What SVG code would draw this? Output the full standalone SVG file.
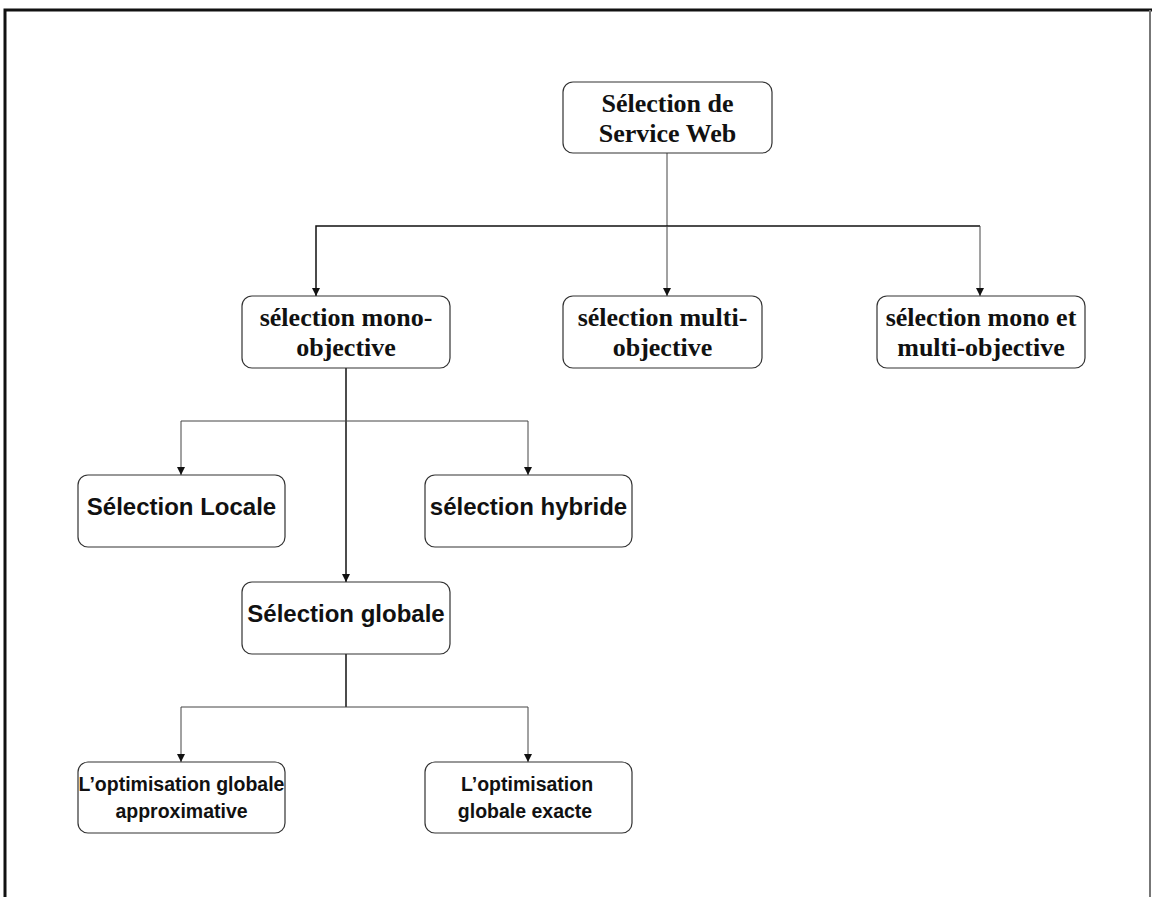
<svg xmlns="http://www.w3.org/2000/svg" width="1152" height="897" viewBox="0 0 1152 897">
<style>
.box{fill:#fff;stroke:#333;stroke-width:1.2}
.serif{font-family:"Liberation Serif","Times New Roman",serif;font-weight:bold;font-size:26px;fill:#111;text-anchor:middle}
.sans{font-family:"Liberation Sans",Arial,sans-serif;font-weight:bold;font-size:24px;fill:#111;text-anchor:middle}
.cal{font-family:"Liberation Sans",Arial,sans-serif;font-weight:bold;font-size:19.5px;fill:#111;text-anchor:middle}
.ln{fill:none;stroke:#444;stroke-width:1}
.lk{fill:none;stroke:#111;stroke-width:1.5}
</style>
<defs>
<marker id="ah" viewBox="0 0 10 10" refX="10" refY="5" markerWidth="8" markerHeight="8" markerUnits="userSpaceOnUse" orient="auto">
<path d="M0,0 L10,5 L0,10 z" fill="#111"/>
</marker>
</defs>
<rect width="1152" height="897" fill="#fff"/>
<path d="M5,897 V10 H1152" fill="none" stroke="#111" stroke-width="3"/>
<path d="M1150,10 V897" fill="none" stroke="#777" stroke-width="2"/>
<g id="connectors">
<path class="ln" d="M667,153 V226"/>
<path class="lk" d="M667,226 H316 V296" marker-end="url(#ah)"/>
<path class="lk" d="M667,226 H980"/>
<path class="ln" d="M667,226 V296" marker-end="url(#ah)"/>
<path class="ln" d="M980,226 V296" marker-end="url(#ah)"/>
<path class="lk" d="M346,368 V582" marker-end="url(#ah)"/>
<path class="ln" d="M346,421 H181 V475" marker-end="url(#ah)"/>
<path class="ln" d="M346,421 H528 V475" marker-end="url(#ah)"/>
<path class="lk" d="M346,654 V707"/>
<path class="ln" d="M346,707 H181 V762" marker-end="url(#ah)"/>
<path class="ln" d="M346,707 H528 V762" marker-end="url(#ah)"/>
</g>
<g id="n-root">
<rect class="box" x="563" y="82" width="209" height="71" rx="10"/>
<text class="serif" x="667.5" y="112">Sélection de</text>
<text class="serif" x="667.5" y="142">Service Web</text>
</g>
<g id="n-mono">
<rect class="box" x="242" y="296" width="208" height="72" rx="10"/>
<text class="serif" x="346" y="326">sélection mono-</text>
<text class="serif" x="346" y="356">objective</text>
</g>
<g id="n-multi">
<rect class="box" x="563" y="296" width="199" height="72" rx="10"/>
<text class="serif" x="662.5" y="326">sélection multi-</text>
<text class="serif" x="662.5" y="356">objective</text>
</g>
<g id="n-monomulti">
<rect class="box" x="877" y="296" width="208" height="72" rx="10"/>
<text class="serif" x="981" y="326">sélection mono et</text>
<text class="serif" x="981" y="356">multi-objective</text>
</g>
<g id="n-locale">
<rect class="box" x="78" y="475" width="207" height="72" rx="10"/>
<text class="sans" x="181.5" y="515">Sélection Locale</text>
</g>
<g id="n-hybride">
<rect class="box" x="425" y="475" width="207" height="72" rx="10"/>
<text class="sans" x="528.5" y="515">sélection hybride</text>
</g>
<g id="n-globale">
<rect class="box" x="242" y="582" width="208" height="72" rx="10"/>
<text class="sans" x="346" y="622">Sélection globale</text>
</g>
<g id="n-approx">
<rect class="box" x="78" y="762" width="207" height="71" rx="10"/>
<text class="cal" x="181.5" y="791">L’optimisation globale</text>
<text class="cal" x="181.5" y="818">approximative</text>
</g>
<g id="n-exacte">
<rect class="box" x="425" y="762" width="207" height="71" rx="10"/>
<text class="cal" x="527" y="791">L’optimisation</text>
<text class="cal" x="525" y="818">globale exacte</text>
</g>
</svg>
